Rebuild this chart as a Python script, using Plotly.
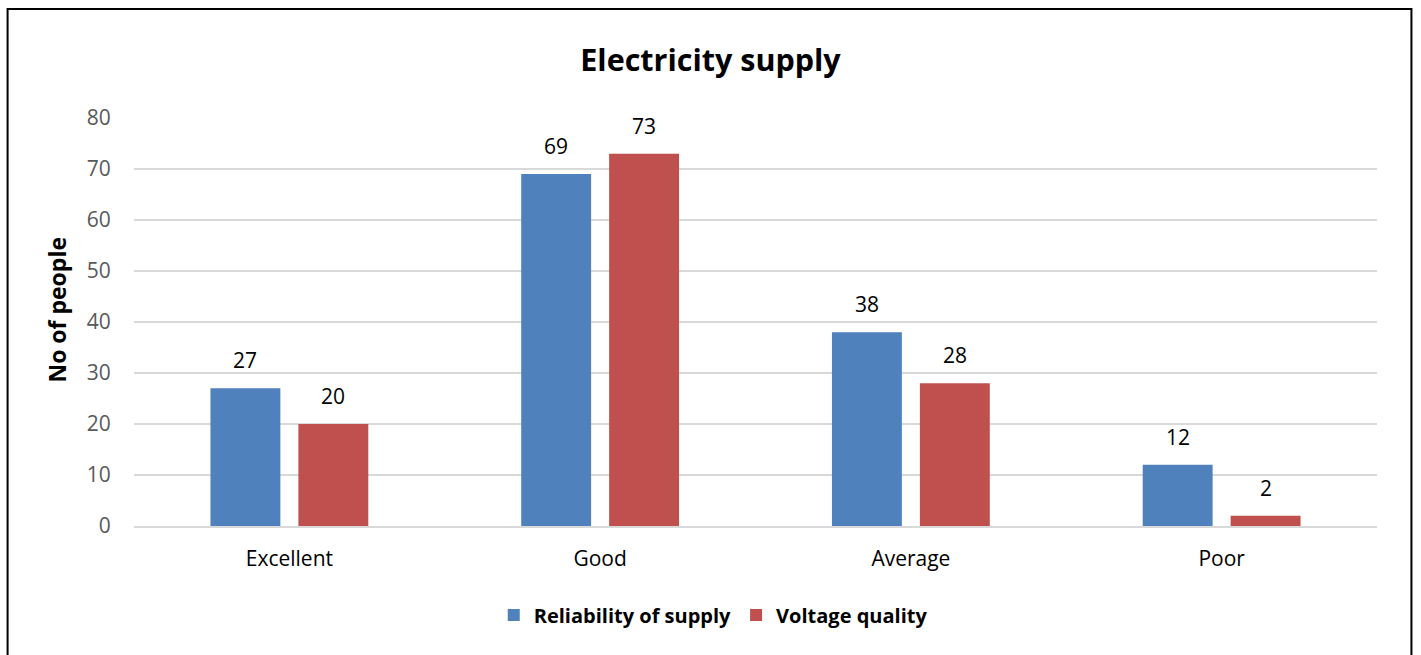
import plotly.graph_objects as go

categories = ["Excellent", "Good", "Average", "Poor"]
reliability = [27, 69, 38, 12]
voltage = [20, 73, 28, 2]
series_names = ["Reliability of supply", "Voltage quality"]
colors = ["#4F81BD", "#C0504D"]
y_ticks = [0, 10, 20, 30, 40, 50, 60, 70, 80]

FONT = "Open Sans"

fig = go.Figure()
for name, vals, col in zip(series_names, [reliability, voltage], colors):
    fig.add_trace(go.Bar(
        x=categories, y=vals, name="<b>" + name + "</b>",
        marker=dict(color=col, line=dict(width=0)),
        hoverinfo="x+y",
    ))

# data labels above bars
slot = 0.283
for k, vals in enumerate([reliability, voltage]):
    off = (k - 0.5) * slot
    for i, v in enumerate(vals):
        fig.add_annotation(
            x=i + off, y=v, text=str(v), showarrow=False,
            yanchor="bottom", yshift=12,
            font=dict(family=FONT, size=21, color="#000000"),
        )

# y-axis title
fig.add_annotation(
    xref="paper", yref="paper", x=(56 - 133.5) / 1244, y=(526 - 310) / 408,
    xanchor="center", yanchor="middle", textangle=-90, showarrow=False,
    text="<b>No of people</b>", font=dict(family=FONT, size=23, color="#000000"),
)

# outer border
fig.add_shape(type="rect", xref="paper", yref="paper",
              x0=-0.1017, x1=1.0277, y0=-0.33, y1=1.267,
              line=dict(color="#000000", width=2), layer="above")

fig.update_layout(
    width=1421, height=655,
    margin=dict(l=133.5, r=43.5, t=118, b=129),
    paper_bgcolor="white", plot_bgcolor="white",
    barmode="group", bargap=0.434, bargroupgap=0.205,
    title=dict(text="<b>Electricity supply</b>", x=0.5, xanchor="center",
               y=1 - 60 / 655, yanchor="middle",
               font=dict(family=FONT, size=30.5, color="#000000")),
    font=dict(family=FONT, size=18, color="#000000"),
    showlegend=True,
    legend=dict(orientation="h", x=0.466, xanchor="center", y=-0.218, yanchor="middle",
                font=dict(family=FONT, size=20, color="#000000"),
                itemwidth=30, traceorder="normal"),
    xaxis=dict(type="category", showgrid=False, showline=True, linecolor="#D9D9D9", linewidth=2,
               ticks="outside", ticklen=13, tickcolor="rgba(0,0,0,0)",
               tickfont=dict(family=FONT, size=21, color="#000000"), fixedrange=True),
    yaxis=dict(range=[0, 80], tickvals=y_ticks, showgrid=True, gridcolor="#D9D9D9", gridwidth=2,
               zeroline=False, showline=False,
               ticks="outside", ticklen=18, tickcolor="rgba(0,0,0,0)",
               tickfont=dict(family=FONT, size=21, color="#595959"),
               fixedrange=True),
)

fig.write_html("out.html", config={"displayModeBar": False},
               post_script="document.body.style.margin='0';document.body.style.overflow='hidden';")
